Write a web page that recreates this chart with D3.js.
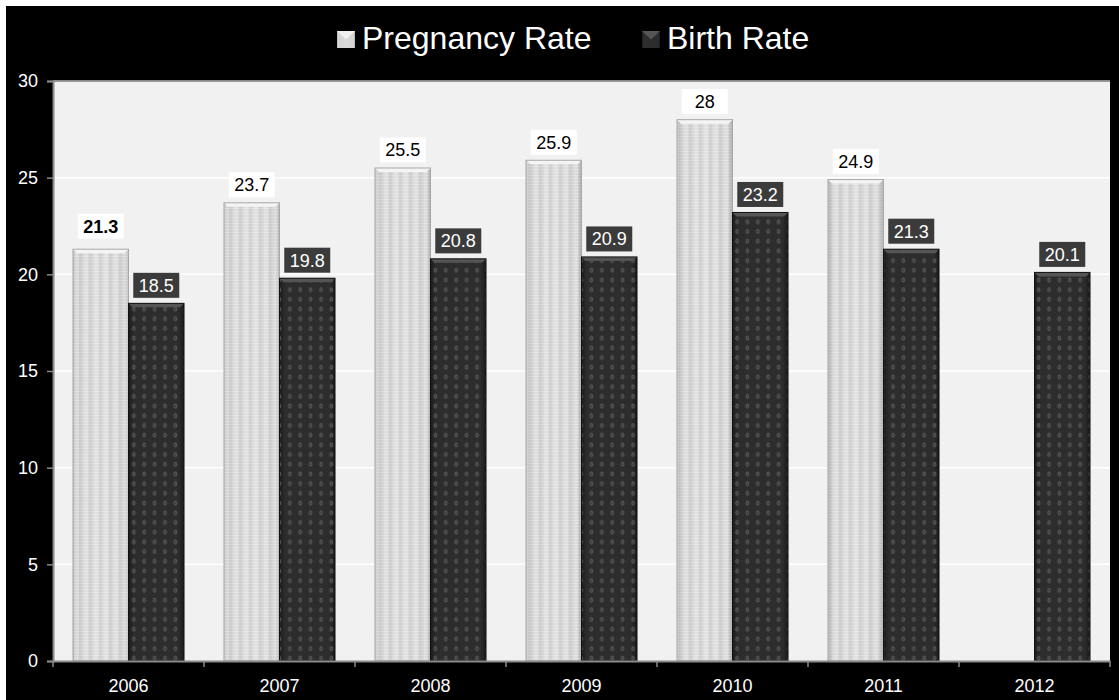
<!DOCTYPE html>
<html>
<head>
<meta charset="utf-8">
<script src="https://cdn.jsdelivr.net/npm/d3@7"></script>
<style>
  body { margin: 0; background: #fff; }
  text { font-family: "Liberation Sans", Arial, sans-serif; }
</style>
</head>
<body>
<div id="chart"></div>
<script>
const years = ["2006", "2007", "2008", "2009", "2010", "2011", "2012"];
const pregnancyRate = [21.3, 23.7, 25.5, 25.9, 28, 24.9, null];
const birthRate = [18.5, 19.8, 20.8, 20.9, 23.2, 21.3, 20.1];
const seriesNames = ["Pregnancy Rate", "Birth Rate"];
const yTicks = [0, 5, 10, 15, 20, 25, 30];

const W = 1119, H = 700;
const margin = { top: 81, right: 9, bottom: 39, left: 53 };
const width = W - margin.left - margin.right,
  height = H - margin.top - margin.bottom;

const svg = d3.select("#chart").append("svg")
  .attr("width", W).attr("height", H);

// black chart background (thin white strip top/left like the original)
svg.append("rect").attr("x", 6).attr("y", 6)
  .attr("width", W - 6).attr("height", H - 6).attr("fill", "#000");

// gradients and patterns for the bar textures
const defs = svg.append("defs");

const lightGrad = defs.append("linearGradient").attr("id", "lightGrad")
  .attr("x1", "0").attr("x2", "1").attr("y1", "0").attr("y2", "0");
lightGrad.append("stop").attr("offset", "0%").attr("stop-color", "#b8b8b8");
lightGrad.append("stop").attr("offset", "8%").attr("stop-color", "#d4d4d4");
lightGrad.append("stop").attr("offset", "50%").attr("stop-color", "#dadada");
lightGrad.append("stop").attr("offset", "92%").attr("stop-color", "#d4d4d4");
lightGrad.append("stop").attr("offset", "100%").attr("stop-color", "#b0b0b0");

const stripes = defs.append("pattern").attr("id", "stripes")
  .attr("patternUnits", "userSpaceOnUse").attr("width", 10).attr("height", 3);
stripes.append("rect").attr("x", 1).attr("width", 4).attr("height", 3)
  .attr("fill", "#ffffff").attr("opacity", 0.22);
stripes.append("rect").attr("x", 6).attr("width", 3).attr("height", 3)
  .attr("fill", "#8c8c8c").attr("opacity", 0.12);
stripes.append("rect").attr("y", 1).attr("width", 10).attr("height", 1)
  .attr("fill", "#ffffff").attr("opacity", 0.18);

const darkGrad = defs.append("linearGradient").attr("id", "darkGrad")
  .attr("x1", "0").attr("x2", "1").attr("y1", "0").attr("y2", "0");
darkGrad.append("stop").attr("offset", "0%").attr("stop-color", "#1c1c1c");
darkGrad.append("stop").attr("offset", "10%").attr("stop-color", "#2d2d2d");
darkGrad.append("stop").attr("offset", "90%").attr("stop-color", "#2d2d2d");
darkGrad.append("stop").attr("offset", "100%").attr("stop-color", "#1a1a1a");

const dots = defs.append("pattern").attr("id", "dots")
  .attr("patternUnits", "userSpaceOnUse").attr("width", 10.4).attr("height", 9.7)
  .attr("x", 3);
dots.append("ellipse").attr("cx", 5).attr("cy", 5).attr("rx", 1.8).attr("ry", 2.6)
  .attr("fill", "#585858");
dots.append("ellipse").attr("cx", 5).attr("cy", 5).attr("rx", 0.8).attr("ry", 1.2)
  .attr("fill", "#3a3a3a");

const g = svg.append("g")
  .attr("transform", "translate(" + margin.left + "," + margin.top + ")");

// scales
const x = d3.scaleBand().domain(years).range([0, width]);
const inner = d3.scaleBand().domain(seriesNames)
  .range([0, x.bandwidth()]).paddingOuter(0.36);
const y = d3.scaleLinear().domain([0, 30]).range([height, 0]);

// plot area
g.append("rect").attr("width", width).attr("height", height).attr("fill", "#f1f1f1");

// gridlines
g.append("g").selectAll("line").data(yTicks.slice(1)).enter().append("line")
  .attr("x1", 0).attr("x2", width)
  .attr("y1", d => y(d)).attr("y2", d => y(d))
  .attr("stroke", "#ffffff").attr("stroke-width", 1.5);

// top border of plot
g.append("line").attr("x1", 0).attr("x2", width).attr("y1", 0).attr("y2", 0)
  .attr("stroke", "#777").attr("stroke-width", 1.5);

// bars
const seriesData = [pregnancyRate, birthRate];
const fills = [["url(#lightGrad)", "url(#stripes)"], ["url(#darkGrad)", "url(#dots)"]];
const bw = inner.bandwidth();

seriesNames.forEach((name, si) => {
  const data = years.map((yr, i) => ({ year: yr, value: seriesData[si][i], i: i }))
    .filter(d => d.value != null);
  const sg = g.append("g");
  const bx = d => x(d.year) + inner(name);

  fills[si].forEach(f => {
    sg.selectAll(null).data(data).enter().append("rect")
      .attr("x", bx).attr("y", d => y(d.value))
      .attr("width", bw).attr("height", d => height - y(d.value))
      .attr("fill", f);
  });
  // bevelled top
  sg.selectAll(null).data(data).enter().append("path")
    .attr("d", d => {
      const x0 = bx(d), y0 = y(d.value);
      return "M" + x0 + "," + y0 + "H" + (x0 + bw) + "L" + (x0 + bw - 4) + "," + (y0 + 4) +
        "H" + (x0 + 4) + "Z";
    })
    .attr("fill", si === 0 ? "#f4f4f4" : "#555");
  sg.selectAll(null).data(data).enter().append("rect")
    .attr("x", bx).attr("y", d => y(d.value))
    .attr("width", bw).attr("height", d => height - y(d.value))
    .attr("fill", "none").attr("stroke", si === 0 ? "#a8a8a8" : "#111").attr("stroke-width", 1);

  // data labels
  const lab = sg.selectAll(null).data(data).enter().append("g")
    .attr("transform", d => {
      const gap = (si === 0 && d.i === 0) ? 10 : 5;
      return "translate(" + (bx(d) + bw / 2) + "," + (y(d.value) - gap - 13) + ")";
    });
  lab.append("rect")
    .attr("x", -23).attr("y", -12.5).attr("width", 46).attr("height", 25)
    .attr("fill", si === 0 ? "#ffffff" : "#3b3b3b");
  lab.append("text")
    .attr("text-anchor", "middle").attr("dy", "0.36em")
    .attr("font-size", 18)
    .attr("font-weight", d => (si === 0 && d.i === 0) ? "bold" : "normal")
    .attr("fill", si === 0 ? "#000" : "#fff")
    .text(d => d.value);
});

// axes
const yAxis = g.append("g")
  .call(d3.axisLeft(y).tickValues(yTicks).tickSize(6).tickPadding(9));
const xAxis = g.append("g").attr("transform", "translate(0," + height + ")")
  .call(d3.axisBottom(x).tickSize(0).tickPadding(18));

[yAxis, xAxis].forEach(a => {
  a.select(".domain").attr("stroke", "#8a8a8a").attr("stroke-width", 2);
  a.selectAll(".tick line").attr("stroke", "#8a8a8a").attr("stroke-width", 1.5);
  a.selectAll(".tick text").attr("fill", "#fff").attr("font-size", 18)
    .attr("font-family", "Liberation Sans, Arial, sans-serif");
});

// x ticks at band boundaries
xAxis.selectAll(null).data(years.concat(["end"])).enter().append("line")
  .attr("x1", (d, i) => i * x.bandwidth()).attr("x2", (d, i) => i * x.bandwidth())
  .attr("y1", 0).attr("y2", 6)
  .attr("stroke", "#8a8a8a").attr("stroke-width", 1.5);

// legend
const legendX = [337, 642];
const legend = svg.append("g");
seriesNames.forEach((name, i) => {
  const lg = legend.append("g").attr("transform", "translate(" + legendX[i] + ",31)");
  lg.append("rect").attr("width", 18).attr("height", 17)
    .attr("fill", i === 0 ? "url(#lightGrad)" : "url(#darkGrad)");
  lg.append("path").attr("d", "M0,0H18L9,8.5Z").attr("fill", i === 0 ? "#f0f0f0" : "#555");
  lg.append("text").attr("x", 25).attr("y", 17.5)
    .attr("font-size", 32).attr("fill", "#fff").text(name);
});
</script>
</body>
</html>
